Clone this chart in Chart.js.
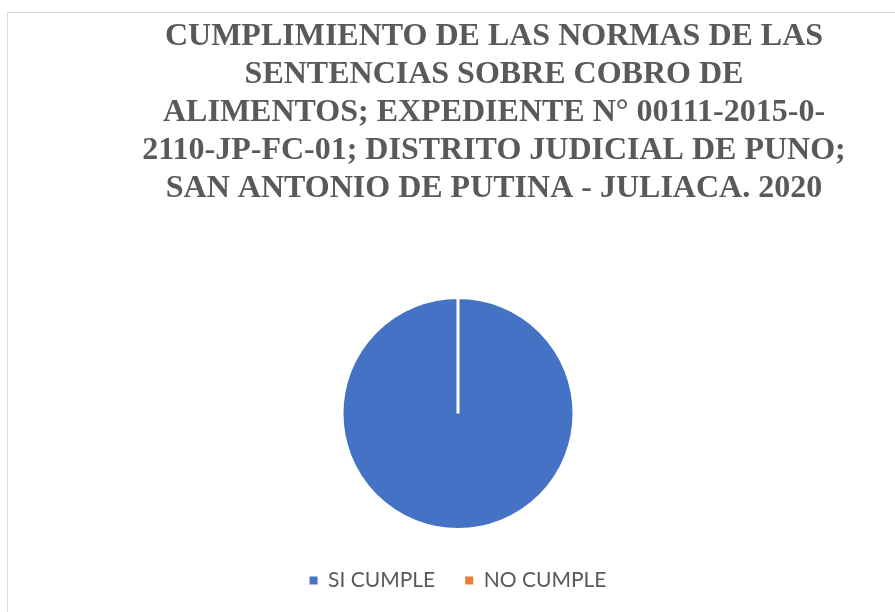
<!DOCTYPE html>
<html>
<head>
<meta charset="utf-8">
<script src="https://cdn.jsdelivr.net/npm/chart.js@4.4.1/dist/chart.umd.min.js"></script>
<style>
  html, body { margin: 0; padding: 0; background: #fff; overflow: hidden; }
  #frame { position: absolute; left: 7px; top: 12px; width: 980px; height: 640px; border: 1px solid #d9d9d9; }
  #chart { display: block; }
</style>
</head>
<body>
<div id="frame"><canvas id="chart" width="980" height="640"></canvas></div>
<script>
// data
const categories = ['SI CUMPLE', 'NO CUMPLE'];
const values = [100, 0];
const colors = ['#4472c4', '#ed7d31'];
const titleLines = [
  'CUMPLIMIENTO DE LAS NORMAS DE LAS',
  'SENTENCIAS SOBRE COBRO DE',
  'ALIMENTOS; EXPEDIENTE N° 00111-2015-0-',
  '2110-JP-FC-01; DISTRITO JUDICIAL DE PUNO;',
  'SAN ANTONIO DE PUTINA - JULIACA. 2020'
];

// title drawn by hand, Excel centres it a bit right of the pie
const titlePlugin = {
  id: 'excelTitle',
  afterDraw(chart) {
    const ctx = chart.ctx;
    ctx.save();
    ctx.font = 'bold 32px "Liberation Serif", "Times New Roman", serif';
    ctx.fillStyle = '#595959';
    ctx.textAlign = 'center';
    ctx.textBaseline = 'alphabetic';
    titleLines.forEach((line, i) => {
      ctx.fillText(line, 486, 32 + i * 38);
    });
    ctx.restore();
  }
};

new Chart(document.getElementById('chart'), {
  type: 'pie',
  data: {
    labels: categories,
    datasets: [{
      data: values,
      backgroundColor: colors,
      borderColor: '#ffffff',
      borderWidth: 3
    }]
  },
  options: {
    responsive: false,
    animation: false,
    radius: 116,
    layout: { padding: { top: 274, bottom: 52, left: 0, right: 80 } },
    plugins: {
      title: { display: false },
      tooltip: { enabled: false },
      legend: {
        position: 'bottom',
        labels: {
          boxWidth: 8,
          boxHeight: 8,
          padding: 30,
          color: '#595959',
          font: { family: 'Lato', size: 21 },
          generateLabels(chart) {
            // no white outline on the legend squares
            return Chart.overrides.pie.plugins.legend.labels.generateLabels(chart)
              .map(item => Object.assign(item, { lineWidth: 0 }));
          }
        }
      }
    }
  },
  plugins: [titlePlugin]
});
</script>
</body>
</html>
